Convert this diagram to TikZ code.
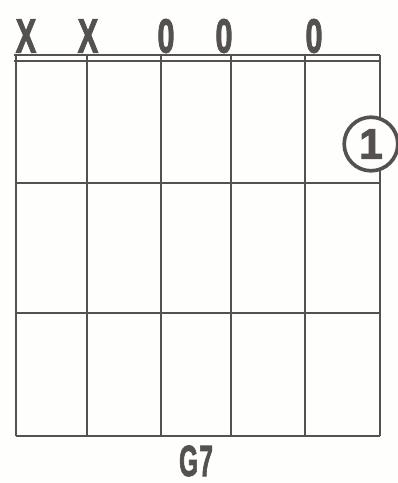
\documentclass[tikz,border=0pt]{standalone}
\usepackage{fontspec}
\setmainfont{Liberation Sans}
\newfontfamily\schrift[FakeBold=2.5]{Liberation Sans Bold}
\definecolor{tinte}{HTML}{555151}
\definecolor{papier}{HTML}{FEFEFC}
\tikzset{
  saite/.style={tinte,line width=1.1pt},
  bund/.style={tinte,line width=1.1pt},
  sattel/.style={tinte,line width=0.9pt},
  leer/.style={tinte,inner sep=0pt,font=\schrift\fontsize{34}{34}\selectfont,xscale=0.64},
  finger/.style={circle,draw=tinte,line width=2.6pt,minimum size=13.4mm,inner sep=0pt,
    text=tinte,font=\schrift\fontsize{30}{30}\selectfont},
  akkord/.style={tinte,inner sep=0pt,font=\schrift\fontsize{31}{31}\selectfont,xscale=0.56},
}

\begin{document}
\begin{tikzpicture}[x=0.25mm,y=-0.25mm]
  \useasboundingbox[fill=papier] (0,0) rectangle (398,483);
  % ===== Sattel =====
  \draw[sattel] (14,55)--(380,55);
  \draw[sattel] (14,61)--(380,61);
  % ===== Saiten =====
  \foreach \x in {16,87,161,231,305,380}
    \draw[saite] (\x,55)--(\x,436);
  % ===== Bünde =====
  \foreach \y in {183,313,436}
    \draw[bund] (16,\y)--(380,\y);
  % ===== leere / gedämpfte Saiten =====
  \node[leer] (s1) at (26,36) {X};
  \node[leer] (s2) at (88,36) {X};
  \node[leer] (s3) at (166,36) {0};
  \node[leer] (s4) at (224,36) {0};
  \node[leer] (s5) at (314,36) {0};
  % ===== Griff =====
  \node[finger,fill=papier] (f6) at (371,144) {1};
  \node[akkord] (name) at (196,461) {G\kern1.5pt7};
\end{tikzpicture}
\end{document}
